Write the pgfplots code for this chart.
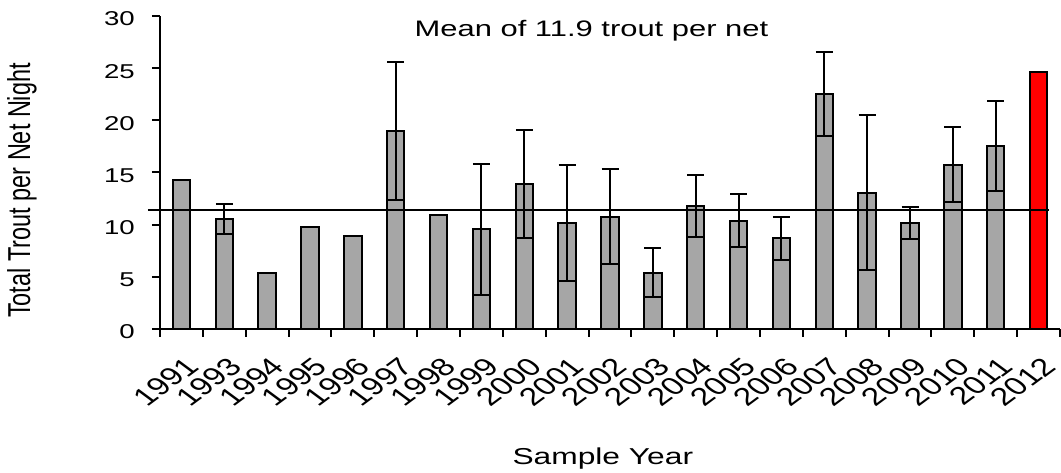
\documentclass[border=0pt]{standalone}
\usepackage{fontspec}
\setmainfont[FakeStretch=1.38]{Liberation Sans}
\newfontfamily\ylfont[FakeStretch=0.74]{Liberation Sans}
\newfontfamily\plainfont{Liberation Sans}
\usepackage{pgfplots}
\pgfplotsset{compat=1.18}
\definecolor{barfill}{RGB}{166,166,166}
\definecolor{barred}{RGB}{255,0,0}

% year index, mean trout per net night
\pgfplotstableread{
x y
0 14.28
1 10.57
2 5.40
3 9.74
4 8.91
5 19.00
6 10.96
7 9.55
8 13.90
9 10.16
10 10.77
11 5.40
12 11.79
13 10.38
14 8.69
15 22.52
16 13.07
17 10.16
18 15.75
19 17.57
}\means

% years that have error bars
\pgfplotstableread{
x y e
1 10.57 1.45
5 19.00 6.60
7 9.55 6.28
8 13.90 5.14
9 10.16 5.60
10 10.77 4.52
11 5.40 2.35
12 11.79 3.00
13 10.38 2.55
14 8.69 2.05
15 22.52 4.00
16 13.07 7.42
17 10.16 1.52
18 15.75 3.60
19 17.57 4.32
}\errs

\begin{document}
\begin{tikzpicture}
\path[use as bounding box] (-160pt,-144pt) rectangle (901pt,329pt);
\begin{axis}[
  at={(0pt,0pt)}, anchor=south west,
  scale only axis, width=900pt, height=313pt,
  xmin=-0.5, xmax=20.5, ymin=0, ymax=30,
  clip=false,
  axis x line=bottom, axis y line=left,
  axis line style={line width=2.6pt, -},
  xtick={0,...,20},
  xticklabels={1991,1993,1994,1995,1996,1997,1998,1999,2000,2001,2002,
    2003,2004,2005,2006,2007,2008,2009,2010,2011,2012},
  minor xtick={-0.5,0.5,...,20.5},
  ytick={0,5,...,30},
  minor ytick={0,5,...,30},
  tick align=outside,
  major tick length=0pt, minor tick length=8pt,
  minor tick style={line width=2pt, black},
  /pgf/number format/assume math mode=true,
  yticklabel style={font=\fontsize{20}{24}\selectfont, inner sep=0pt,
    anchor=east, xshift=-25pt, yshift=-3pt},
  xticklabel style={font=\plainfont\fontsize{25}{26}\selectfont, inner sep=0pt,
    xshift=11pt, yshift=-33pt, xscale=1.35, rotate=45, anchor=east},
  bar width=17.5pt,
]
  \addplot[ybar, bar shift=0pt, fill=barfill, draw=black, line width=2pt]
    table[x=x, y=y] {\means};
  \addplot[ybar, bar shift=0pt, fill=barred, draw=black, line width=2pt]
    coordinates {(20,24.63)};
  \addplot[draw=none, mark=none,
    error bars/.cd, y dir=both, y explicit,
    error bar style={line width=2pt, black},
    error mark options={rotate=90, line width=2pt, black, mark size=8.5pt}]
    table[x=x, y=y, y error=e] {\errs};
  % mean line
  \addplot[black, line width=2.3pt, mark=none]
    coordinates {(-0.78,11.4) (20.24,11.4)};

  \node[anchor=base, inner sep=0pt, font=\fontsize{22.4}{26}\selectfont]
    at (axis description cs:0.4794,0.934) {Mean of 11.9 trout per net};
  \node[anchor=base, inner sep=0pt, font=\fontsize{23}{27}\selectfont]
    at (axis description cs:0.492,-0.4345) {Sample Year};
  \node[rotate=90, anchor=north, inner sep=0pt,
    font=\ylfont\fontsize{31.7}{34}\selectfont]
    at (axis description cs:-0.17,0.4425) {Total Trout per Net Night};
\end{axis}
\end{tikzpicture}
\end{document}
